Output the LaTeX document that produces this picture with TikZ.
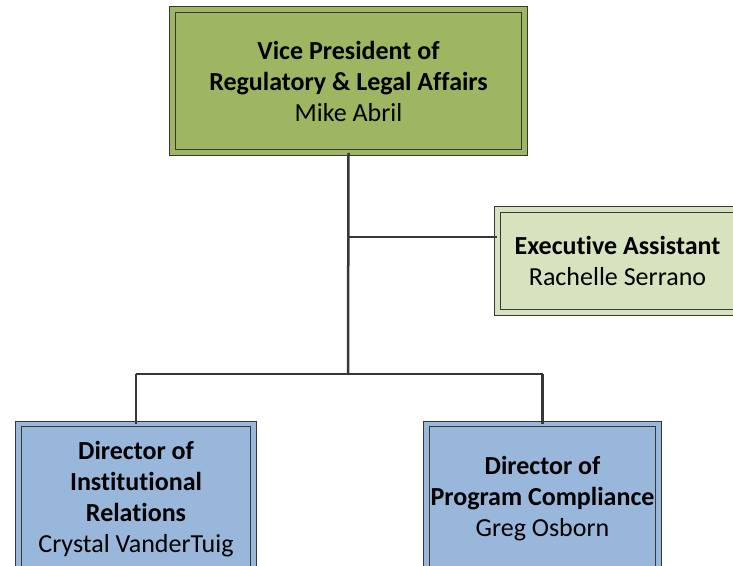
\documentclass[tikz,border=0pt]{standalone}
\usepackage{fontspec}
\setmainfont{Carlito}[Ligatures=NoCommon]
\usetikzlibrary{shadows}

\definecolor{vpgreen}{RGB}{158,182,98}
\definecolor{asgreen}{RGB}{215,227,190}
\definecolor{dirblue}{RGB}{152,183,218}
\definecolor{edgegray}{RGB}{55,55,55}

\tikzset{
  box/.style={rectangle, draw=edgegray, line width=0.8pt, double distance=4.5pt,
    align=center, font=\fontsize{26}{31}\selectfont, inner sep=0pt,
    drop shadow={shadow xshift=3pt, shadow yshift=-3pt, fill=black!35, opacity=0.8}},
  link/.style={draw=edgegray, line width=2.5pt}
}

\begin{document}
\begin{tikzpicture}[x=1pt, y=1pt]
\useasboundingbox (0,0) rectangle (733,565);
\clip (0,0) rectangle (733,565);
\fill[white] (0,0) rectangle (733,565);

\node[box, fill=vpgreen, double=vpgreen, minimum width=352pt, minimum height=143pt] (vp) at (348.5,484)
  {\textbf{Vice President of}\\ \textbf{Regulatory \& Legal Affairs}\\ Mike Abril};
\node[box, fill=asgreen, double=asgreen, minimum width=240pt, minimum height=103pt] (ea) at (617.5,304)
  {\textbf{Executive Assistant}\\ Rachelle Serrano};
\node[box, fill=dirblue, double=dirblue, minimum width=235pt, minimum height=150pt] (ir) at (136,66)
  {\textbf{Director of}\\ \textbf{Institutional}\\ \textbf{Relations}\\ Crystal VanderTuig};
\node[box, fill=dirblue, double=dirblue, minimum width=232pt, minimum height=150pt] (pc) at (542.5,66)
  {\textbf{Director of}\\ \textbf{Program Compliance}\\ Greg Osborn};

\coordinate (bus) at (348,191);
\coordinate (branch) at (348,328);
\draw[link] (vp.south) -- (bus);
\draw[link] (branch) -- (branch -| ea.west);
\draw[link] (ir.north |- bus) -- (pc.north |- bus);
\draw[link] (ir.north |- bus) -- (ir.north);
\draw[link] (pc.north |- bus) -- (pc.north);
\end{tikzpicture}
\end{document}
